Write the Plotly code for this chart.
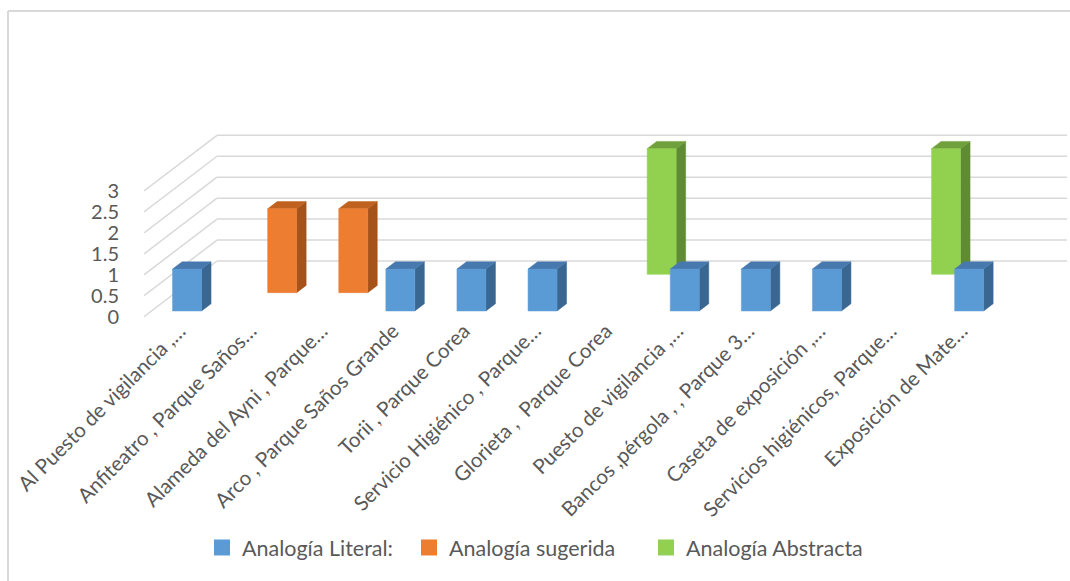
import plotly.graph_objects as go

# --- data ---
categories = [
    "Al Puesto de vigilancia ,…",
    "Anfiteatro , Parque Saños…",
    "Alameda del Ayni , Parque…",
    "Arco , Parque Saños Grande",
    "Torii , Parque Corea",
    "Servicio Higiénico , Parque…",
    "Glorieta ,  Parque Corea",
    "Puesto de vigilancia ,…",
    "Bancos ,pérgola , , Parque 3…",
    "Caseta de exposición ,…",
    "Servicios higiénicos, Parque…",
    "Exposición de Mate…",
]
literal = [1, None, None, 1, 1, 1, None, 1, 1, 1, None, 1]
sugerida = [None, 2, 2, None, None, None, None, None, None, None, None, None]
abstracta = [None, None, None, None, None, None, 3, None, None, None, 3, None]
y_ticks = [0, 0.5, 1, 1.5, 2, 2.5, 3]

# --- fake 3D geometry (pixels -> data units) ---
W, H = 1070, 581
M_L, M_R, M_T, M_B = 144, 3, 125, 259
PX_X = 71.1          # pixels per category
PX_Y = 41.9          # pixels per value unit
ZERO_PX = 316.7      # pixel row of value 0 on the front plane
SLOPE = 0.763        # dy/dx of the depth direction
WALL_DEPTH = 73      # px
BAR_W = 29 / PX_X
BAR_DEPTH = 9.5
ROW_DEPTH = [7.5, 31.5, 55.5]   # front depth of each series row

plot_w = W - M_L - M_R
plot_h = H - M_T - M_B
x_range = [-0.5, -0.5 + plot_w / PX_X]
y_range = [(ZERO_PX - (H - M_B)) / PX_Y, (ZERO_PX - M_T) / PX_Y]


def depth(d):
    return d / PX_X, d * SLOPE / PX_Y


series = [
    ("Analogía Abstracta", abstracta, ROW_DEPTH[2], "#92D050", "#5F8B33", "#70A03B"),
    ("Analogía sugerida", sugerida, ROW_DEPTH[1], "#ED7D31", "#A5531B", "#BF621F"),
    ("Analogía Literal:", literal, ROW_DEPTH[0], "#5B9BD5", "#3A6792", "#4779AE"),
]

fig = go.Figure()

# walls: back gridlines and slanted side lines
wdx, wdy = depth(WALL_DEPTH)
grid = dict(color="#D9D9D9", width=1.5)
for v in y_ticks:
    fig.add_shape(type="line", x0=x_range[0], y0=v, x1=x_range[0] + wdx, y1=v + wdy,
                  line=grid, layer="below")
    fig.add_shape(type="line", x0=x_range[0] + wdx, y0=v + wdy, x1=x_range[1], y1=v + wdy,
                  line=grid, layer="below")

# bars, back row first
for name, vals, row_d, c_front, c_side, c_top in series:
    ox, oy = depth(row_d)
    bx, by = depth(BAR_DEPTH)
    front_x, front_y, side_x, side_y, top_x, top_y = [], [], [], [], [], []
    for i, v in enumerate(vals):
        if v is None:
            continue
        x0 = i - BAR_W / 2 + ox
        x1 = i + BAR_W / 2 + ox
        b, t = oy, v + oy
        front_x += [x0, x1, x1, x0, x0, None]
        front_y += [b, b, t, t, b, None]
        side_x += [x1, x1 + bx, x1 + bx, x1, x1, None]
        side_y += [b, b + by, t + by, t, b, None]
        top_x += [x0, x1, x1 + bx, x0 + bx, x0, None]
        top_y += [t, t, t + by, t + by, t, None]
    for xs, ys, col in [(side_x, side_y, c_side), (top_x, top_y, c_top), (front_x, front_y, c_front)]:
        fig.add_trace(go.Scatter(
            x=xs, y=ys, mode="lines", fill="toself", fillcolor=col,
            line=dict(color=col, width=0.5), hoverinfo="skip", showlegend=False,
        ))

fx = lambda px: (px - M_L) / plot_w
fy = lambda py: (H - M_B - py) / plot_h

# legend entries, one small legend per series so spacing follows the original
legend_text_x = [240, 447, 684]
legend_ids = ["legend", "legend2", "legend3"]
legend_layout = {}
for k, (name, vals, row_d, c_front, c_side, c_top) in enumerate(reversed(series)):
    fig.add_trace(go.Scatter(
        x=[None], y=[None], mode="markers", name=name, legend=legend_ids[k],
        marker=dict(symbol="square", size=16, color=c_front),
    ))
    legend_layout[legend_ids[k]] = dict(
        orientation="h", x=fx(legend_text_x[k] - 38), y=fy(527), xanchor="left", yanchor="top",
        font=dict(size=21.5, color="#595959"), bgcolor="rgba(0,0,0,0)",
    )

# chart frame (only top and left edges visible)
frame = dict(color="#D9D9D9", width=2)
fig.add_shape(type="line", xref="paper", yref="paper", x0=fx(8), y0=fy(H), x1=fx(8), y1=fy(11), line=frame)
fig.add_shape(type="line", xref="paper", yref="paper", x0=fx(8), y0=fy(11), x1=fx(W), y1=fy(11), line=frame)

fig.update_xaxes(
    range=x_range, showgrid=False, zeroline=False, showline=False,
    tickmode="array", tickvals=list(range(len(categories))), ticktext=categories,
    tickangle=-45, tickfont=dict(size=20.5, color="#595959"), ticks="",
    ticklabelstandoff=-8,
)
fig.update_yaxes(
    range=y_range, showgrid=False, zeroline=False, showline=False,
    tickmode="array", tickvals=y_ticks, ticktext=[f"{v:g}" for v in y_ticks],
    tickfont=dict(size=20, color="#595959"), ticks="", ticklabelstandoff=24,
)
fig.update_layout(
    width=W, height=H,
    margin=dict(l=M_L, r=M_R, t=M_T, b=M_B, autoexpand=False),
    paper_bgcolor="white", plot_bgcolor="white",
    font=dict(family="Lato, Carlito, 'Open Sans', sans-serif", color="#595959"),
    showlegend=True,
    **legend_layout,
)

fig.write_html("out.html", config={"displayModeBar": False},
               post_script="document.body.style.margin='0';")
